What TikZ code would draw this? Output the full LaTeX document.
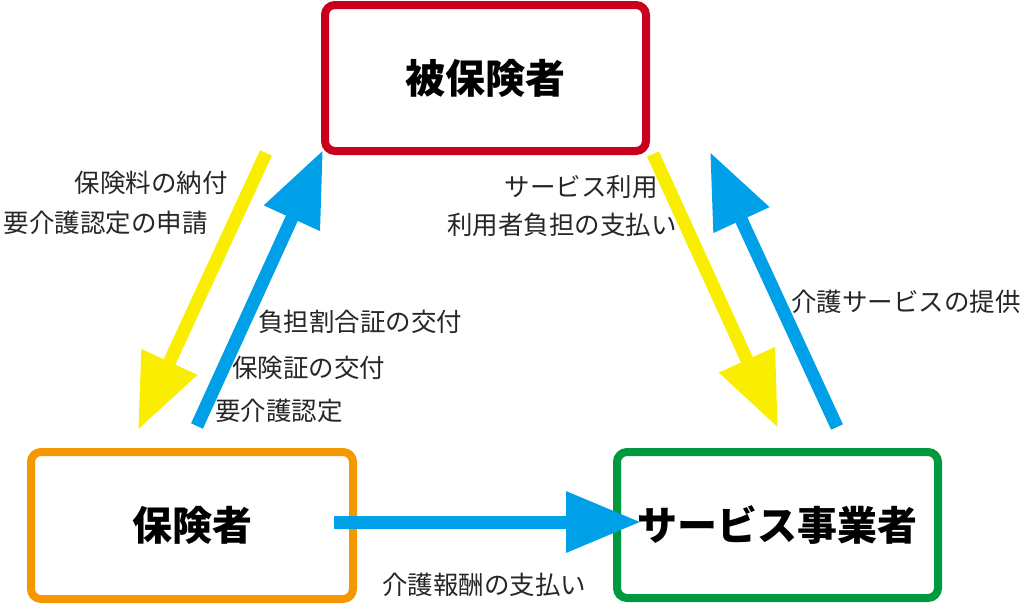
\documentclass[tikz,border=0pt]{standalone}
\usepackage{fontspec}
\setmainfont{Noto Sans CJK JP}
\usetikzlibrary{arrows.meta}
\definecolor{hired}{RGB}{200,0,30}
\definecolor{hiorange}{RGB}{243,152,0}
\definecolor{higreen}{RGB}{0,153,62}
\definecolor{flowblue}{RGB}{0,160,233}
\definecolor{flowyellow}{RGB}{250,238,0}

\begin{document}
\begin{tikzpicture}[x=1pt,y=-1pt,
  box/.style={draw,line width=8pt,rounded corners=10pt,fill=white,
    minimum width=321pt,minimum height=146pt,
    font=\fontsize{40}{48}\selectfont\bfseries},
  lbl/.style={inner sep=0pt,text=black!85,font=\fontsize{25.5}{30}\selectfont},
  flow/.style={line width=13pt,-{Triangle[length=75pt,width=58pt]}}]
  \useasboundingbox (0,0) rectangle (1024,603);

  % boxes
  \node[box,draw=hired] (insured) at (485.5,78) {被保険者};
  \node[box,draw=hiorange,minimum width=322pt,minimum height=147pt] (insurer) at (192,525.5) {保険者};
  \node[box,draw=higreen] (provider) at (777.5,525) {サービス事業者};

  % arrow ends
  \coordinate (a1s) at (266,153);  \coordinate (a1e) at (138,430);
  \coordinate (a2s) at (197,426);  \coordinate (a2e) at (323,150);
  \coordinate (a3s) at (653,154);  \coordinate (a3e) at (778,428);
  \coordinate (a4s) at (837,427);  \coordinate (a4e) at (710,152);
  \coordinate (a5s) at (334,522);  \coordinate (a5e) at (641,522);

  \draw[flow,flowyellow] (a1s) -- (a1e);
  \draw[flow,flowblue] (a2s) -- (a2e);
  \draw[flow,flowyellow] (a3s) -- (a3e);
  \draw[flow,flowblue] (a4s) -- (a4e);
  \draw[flow,flowblue] (a5s) -- (a5e);

  % labels
  \node[lbl,anchor=east] (pay) at (228,183) {保険料の納付};
  \node[lbl,anchor=east] (apply) at (208,223) {要介護認定の申請};
  \node[lbl,anchor=west] (ratio) at (258,322) {負担割合証の交付};
  \node[lbl,anchor=west] (card) at (232,368) {保険証の交付};
  \node[lbl,anchor=west] (cert) at (215,411) {要介護認定};
  \node[lbl,anchor=east] (use) at (658,187) {サービス利用};
  \node[lbl,anchor=east] (share) at (677,225) {利用者負担の支払い};
  \node[lbl,anchor=west] (care) at (791,302) {介護サービスの提供};
  \node[lbl,anchor=west] (fee) at (382,585) {介護報酬の支払い};
\end{tikzpicture}
\end{document}
